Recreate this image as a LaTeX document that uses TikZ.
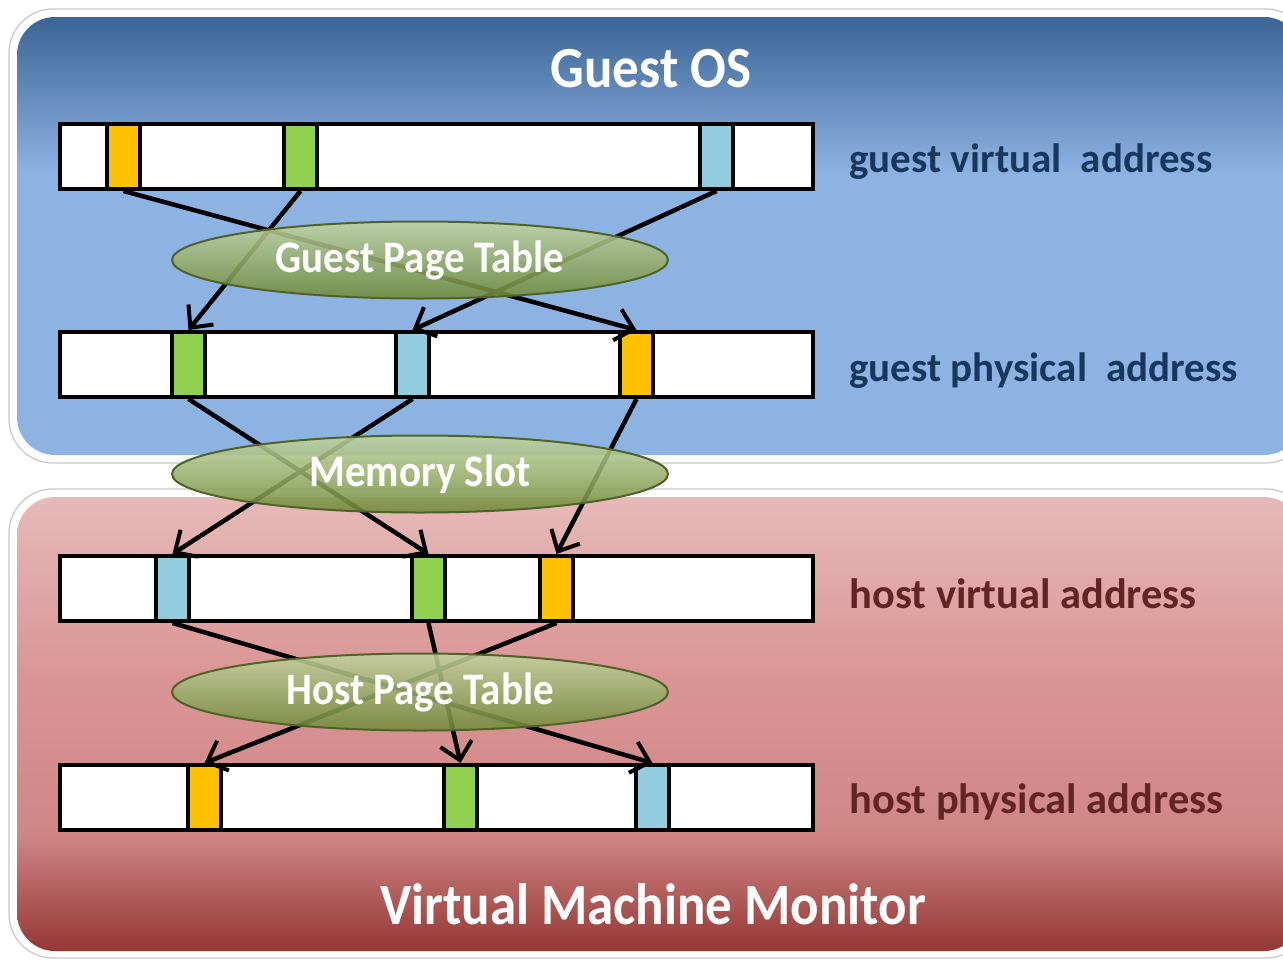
\documentclass[tikz,border=0pt]{standalone}
\usepackage{fontspec}
\setmainfont{Carlito}
\usetikzlibrary{arrows.meta,shapes.geometric}

\definecolor{cellorange}{HTML}{FFC000}
\definecolor{cellgreen}{HTML}{92D050}
\definecolor{cellblue}{HTML}{93CDDD}
\definecolor{guesttop}{HTML}{3C6496}
\definecolor{guestlow}{HTML}{8DB3E2}
\definecolor{hosttop}{HTML}{E6B9B8}
\definecolor{hostmid}{HTML}{D99594}
\definecolor{hostlow}{HTML}{953735}
\definecolor{guesttext}{HTML}{17375E}
\definecolor{hosttext}{HTML}{632523}
\definecolor{ovaltop}{HTML}{C2D4A0}
\definecolor{ovallow}{HTML}{6F8A38}
\definecolor{ovalline}{HTML}{4F6228}

\pgfdeclareverticalshading{guestshade}{100bp}{color(0bp)=(guestlow); color(25bp)=(guestlow); color(57bp)=(guestlow); color(75bp)=(guesttop); color(100bp)=(guesttop)}
\pgfdeclareverticalshading{hostshade}{100bp}{color(0bp)=(hostlow); color(25bp)=(hostlow); color(38bp)=(hostmid!85!hostlow); color(55bp)=(hostmid); color(75bp)=(hosttop); color(100bp)=(hosttop)}

\tikzset{
  bar/.style={draw, fill=white, line width=4pt, minimum width=753pt, minimum height=65pt, inner sep=0pt},
  cell/.style={draw, line width=4pt, minimum width=33pt, minimum height=65pt, inner sep=0pt},
  oval/.style={ellipse, draw=ovalline, line width=2pt, top color=ovaltop, bottom color=ovallow, fill opacity=0.87, text opacity=1,
    minimum width=496pt, minimum height=77pt, inner sep=0pt, text=white, font=\fontsize{41}{49}\selectfont\bfseries},
  link/.style={line width=4.5pt, -{Straight Barb[length=17pt,width=32pt,line width=4pt]}},
  guestlabel/.style={anchor=west, text=guesttext, font=\fontsize{41}{49}\selectfont\bfseries},
  hostlabel/.style={anchor=west, text=hosttext, font=\fontsize{42.5}{50}\selectfont\bfseries},
  headline/.style={text=white, font=\fontsize{53}{62}\selectfont\bfseries},
}

\begin{document}
\begin{tikzpicture}[x=1pt,y=-1pt]
\useasboundingbox (0,0) rectangle (1283,959);
\clip (0,0) rectangle (1283,959);
\fill[white] (0,0) rectangle (1283,959);

% panels
\filldraw[fill=white, draw=black!22, line width=1.2pt, rounded corners=44pt] (9,9) rectangle (1310,463);
\shade[shading=guestshade, rounded corners=38pt] (17,17) rectangle (1302,455);
\filldraw[fill=white, draw=black!22, line width=1.2pt, rounded corners=44pt] (9,489) rectangle (1310,958);
\shade[shading=hostshade, rounded corners=38pt] (17,497) rectangle (1302,951);

\node[headline] (guest) at (651,69) {\scalebox{1}[1.1]{Guest OS}};
\node[headline] (vmm) at (653,904) {\scalebox{1}[1.1]{Virtual Machine Monitor}};

% address rows
\node[bar] (gva) at (436.5,156.5) {};
\node[cell, fill=cellorange] (gva-o) at (123.5,156.5) {};
\node[cell, fill=cellgreen] (gva-g) at (300.5,156.5) {};
\node[cell, fill=cellblue] (gva-b) at (716.5,156.5) {};
\node[guestlabel] (gva-l) at (846,162) {guest virtual\hspace{10pt} address};

\node[bar] (gpa) at (436.5,364.5) {};
\node[cell, fill=cellgreen] (gpa-g) at (188.5,364.5) {};
\node[cell, fill=cellblue] (gpa-b) at (412.5,364.5) {};
\node[cell, fill=cellorange] (gpa-o) at (636.5,364.5) {};
\node[guestlabel] (gpa-l) at (846,371) {guest physical\hspace{10pt} address};

\node[bar] (hva) at (436.5,588.5) {};
\node[cell, fill=cellblue] (hva-b) at (172.5,588.5) {};
\node[cell, fill=cellgreen] (hva-g) at (428.5,588.5) {};
\node[cell, fill=cellorange] (hva-o) at (556.5,588.5) {};
\node[hostlabel] (hva-l) at (846,594) {host virtual address};

\node[bar] (hpa) at (436.5,797.5) {};
\node[cell, fill=cellorange] (hpa-o) at (204.5,797.5) {};
\node[cell, fill=cellgreen] (hpa-g) at (460.5,797.5) {};
\node[cell, fill=cellblue] (hpa-b) at (652.5,797.5) {};
\node[hostlabel] (hpa-l) at (846,802) {host physical address};

% mappings
\draw[link] (gva-o.south) -- (gpa-o.north);
\draw[link] (gva-g.south) -- (gpa-g.north);
\draw[link] (gva-b.south) -- (gpa-b.north);
\draw[link] (gpa-g.south) -- (hva-g.north);
\draw[link] (gpa-b.south) -- (hva-b.north);
\draw[link] (gpa-o.south) -- (hva-o.north);
\draw[link] (hva-b.south) -- (hpa-b.north);
\draw[link] (hva-g.south) -- (hpa-g.north);
\draw[link] (hva-o.south) -- (hpa-o.north);

\node[oval] (gpt) at (420,260) {\scalebox{1}[1.1]{Guest Page Table}};
\node[oval] (slot) at (420,474) {\scalebox{1}[1.1]{Memory Slot}};
\node[oval] (hpt) at (420,692) {\scalebox{1}[1.1]{Host Page Table}};
\end{tikzpicture}
\end{document}
